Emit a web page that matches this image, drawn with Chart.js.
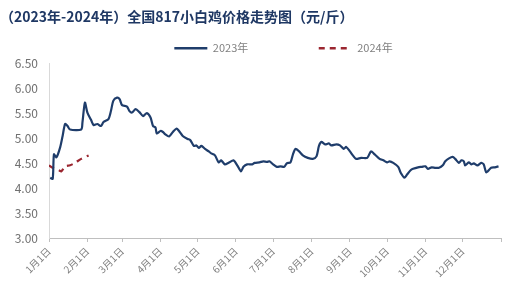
<!DOCTYPE html>
<html>
<head>
<meta charset="utf-8">
<script src="https://cdn.jsdelivr.net/npm/chart.js@4/dist/chart.umd.min.js"></script>
<style>
  html, body { margin: 0; padding: 0; background: #fff; }
  #wrap { width: 515px; height: 301px; }
</style>
</head>
<body>
<div id="wrap"><canvas id="c"></canvas></div>
<script>
// 数据：按年内天数（0 = 1月1日）
const days2023 = [1, 3, 4, 6, 9, 11, 13, 15, 17, 26, 27, 29, 31, 34, 36, 39, 42, 44, 48, 50, 52, 55, 57, 59, 63, 65, 67, 70, 73, 76, 79, 82, 84, 86, 87, 90, 92, 94, 97, 100, 103, 105, 108, 112, 114, 117, 119, 121, 123, 126, 129, 131, 134, 137, 139, 142, 145, 149, 152, 155, 157, 160, 164, 166, 170, 173, 176, 178, 181, 184, 187, 190, 192, 195, 197, 199, 202, 205, 209, 213, 216, 218, 220, 223, 226, 228, 232, 235, 238, 240, 243, 246, 248, 252, 257, 260, 263, 267, 270, 273, 275, 278, 282, 284, 287, 289, 292, 294, 298, 301, 304, 306, 309, 312, 315, 318, 320, 323, 326, 328, 331, 333, 335, 336, 339, 341, 343, 346, 349, 351, 353, 355, 357, 360, 363];
const price2023 = [4.21, 4.19, 4.68, 4.62, 4.82, 5.05, 5.29, 5.25, 5.18, 5.18, 5.32, 5.72, 5.52, 5.37, 5.27, 5.29, 5.25, 5.33, 5.39, 5.55, 5.76, 5.82, 5.79, 5.67, 5.64, 5.55, 5.52, 5.59, 5.53, 5.45, 5.51, 5.42, 5.25, 5.22, 5.10, 5.15, 5.13, 5.08, 5.04, 5.13, 5.20, 5.15, 5.05, 4.99, 4.97, 4.85, 4.86, 4.81, 4.85, 4.79, 4.74, 4.70, 4.66, 4.52, 4.56, 4.48, 4.51, 4.56, 4.46, 4.34, 4.43, 4.48, 4.48, 4.51, 4.52, 4.54, 4.53, 4.54, 4.48, 4.43, 4.44, 4.43, 4.50, 4.52, 4.68, 4.79, 4.74, 4.66, 4.61, 4.59, 4.64, 4.85, 4.93, 4.88, 4.90, 4.86, 4.88, 4.86, 4.79, 4.83, 4.74, 4.64, 4.59, 4.61, 4.61, 4.74, 4.68, 4.59, 4.56, 4.52, 4.54, 4.51, 4.43, 4.31, 4.21, 4.27, 4.36, 4.39, 4.42, 4.43, 4.44, 4.39, 4.42, 4.41, 4.41, 4.46, 4.54, 4.60, 4.63, 4.59, 4.51, 4.56, 4.54, 4.46, 4.52, 4.48, 4.50, 4.46, 4.51, 4.48, 4.32, 4.36, 4.41, 4.42, 4.44];
const days2024 = [0, 3, 8, 10, 13, 17, 21, 26, 32];
const price2024 = [4.46, 4.41, 4.36, 4.34, 4.44, 4.46, 4.51, 4.59, 4.66];

const monthDays = [0, 31, 59, 90, 120, 151, 181, 212, 243, 273, 304, 334, 365];
const monthLabels = ['1月1日', '2月1日', '3月1日', '4月1日', '5月1日', '6月1日', '7月1日', '8月1日', '9月1日', '10月1日', '11月1日', '12月1日', ''];

const toPoints = (xs, ys) => xs.map((x, i) => ({ x: x, y: ys[i] }));

const axisGrey = '#bfbfbf';
const FONT = "'Noto Sans CJK SC', 'Noto Sans', sans-serif";

// 图例整体右移，贴合原图位置
const legendShift = {
  id: 'legendShift',
  afterLayout(chart) {
    chart.legend.left += 33;
    chart.legend.right += 33;
  }
};

new Chart(document.getElementById('c'), {
  type: 'line',
  data: {
    datasets: [
      {
        label: '2023年\u3000\u3000\u3000\u3000\u3000\u2002',
        data: toPoints(days2023, price2023),
        borderColor: '#1f3d6b',
        borderWidth: 2.2,
        pointRadius: 0,
        tension: 0.25
      },
      {
        label: '2024年',
        data: toPoints(days2024, price2024),
        borderColor: '#9b2630',
        borderWidth: 2.2,
        borderDash: [6, 5],
        pointRadius: 0,
        tension: 0.25
      }
    ]
  },
  plugins: [legendShift],
  options: {
    responsive: true,
    maintainAspectRatio: false,
    animation: false,
    layout: { padding: { left: 0, right: 14, top: 4, bottom: 0 } },
    plugins: {
      title: {
        display: true,
        align: 'start',
        text: '（2023年-2024年）全国817小白鸡价格走势图（元/斤）',
        color: '#1f3864',
        font: { family: FONT, size: 14, weight: 'bold' },
        padding: { top: 4, bottom: 8 }
      },
      legend: {
        labels: {
          usePointStyle: true,
          pointStyle: 'line',
          pointStyleWidth: 33,
          color: '#808080',
          font: { family: FONT, size: 11 },
          padding: 10,
          // 用点样式时图例不带虚线，这里补上
          generateLabels: (chart) => {
            const items = Chart.defaults.plugins.legend.labels.generateLabels(chart);
            items.forEach(item => {
              const ds = chart.data.datasets[item.datasetIndex];
              item.lineDash = ds.borderDash || [];
              item.strokeStyle = ds.borderColor;
              item.lineWidth = 2.5;
            });
            return items;
          }
        }
      },
      tooltip: { enabled: false }
    },
    scales: {
      x: {
        type: 'linear',
        min: 0,
        max: 365,
        afterBuildTicks: (scale) => { scale.ticks = monthDays.map(v => ({ value: v })); },
        afterFit: (scale) => { scale.height = 63; },
        ticks: {
          autoSkip: false,
          minRotation: 45,
          maxRotation: 45,
          color: '#808080',
          font: { family: FONT, size: 10 },
          callback: (v) => monthLabels[monthDays.indexOf(v)]
        },
        grid: { display: true, drawOnChartArea: false, drawTicks: true, tickLength: 4, color: axisGrey },
        border: { display: true, color: axisGrey }
      },
      y: {
        min: 3,
        max: 6.5,
        afterFit: (scale) => { scale.width = 49; },
        ticks: {
          stepSize: 0.5,
          color: '#707070',
          font: { family: FONT, size: 12 },
          callback: (v) => v.toFixed(2)
        },
        grid: { display: false },
        border: { display: true, color: '#d9d9d9' }
      }
    }
  }
});
</script>
</body>
</html>
